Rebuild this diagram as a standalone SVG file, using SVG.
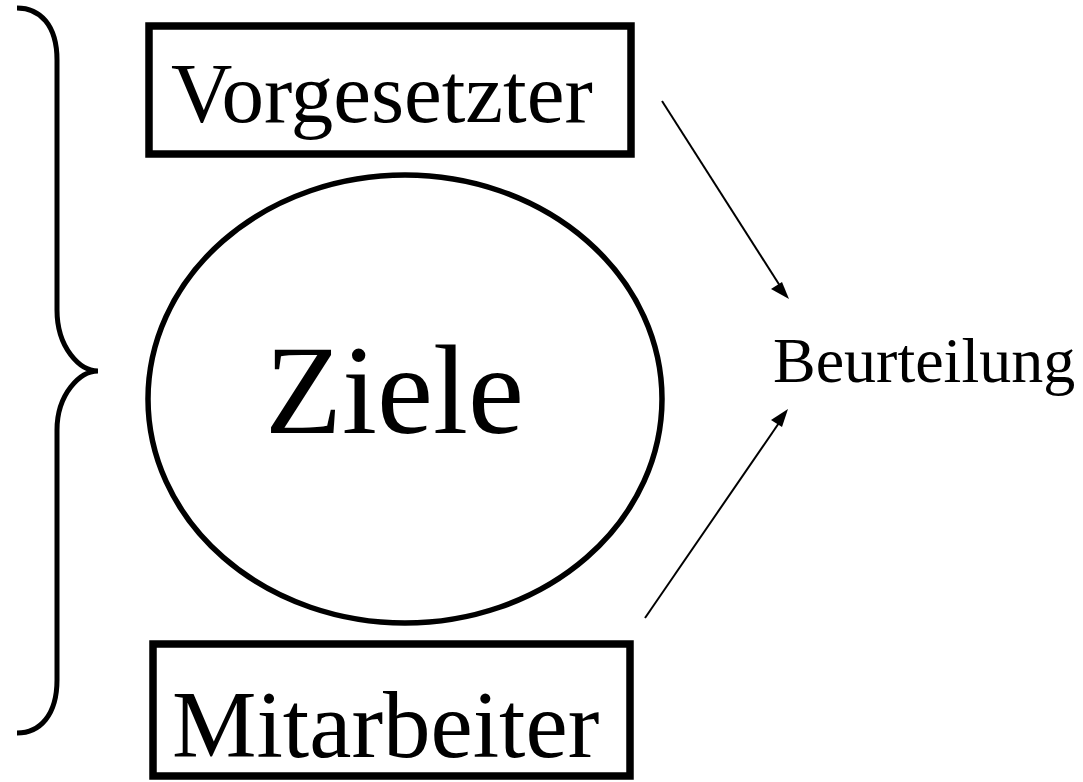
<svg xmlns="http://www.w3.org/2000/svg" width="1083" height="782" viewBox="0 0 1083 782">
<style>
.box{fill:#fff;stroke:#000;stroke-width:7.5}
.t{font-family:"Liberation Serif","Times New Roman",serif;fill:#000}
.conn{stroke:#000;stroke-width:2;fill:none}
</style>
<rect width="1083" height="782" fill="#fff"/>
<g id="brace">
<path d="M17,8 C40,8 57,25 57,60 L57,310 C57,348 80,371 98,371 C80,371 57,394 57,430 L57,680 C57,715 40,733 17,733" fill="none" stroke="#000" stroke-width="5"/>
</g>
<g id="vorgesetzter">
<rect class="box" x="149" y="26" width="482" height="128"/>
<text class="t" x="171" y="122" font-size="85">Vorgesetzter</text>
</g>
<g id="ziele">
<ellipse cx="405" cy="399" rx="257" ry="224" fill="#fff" stroke="#000" stroke-width="5.5"/>
<text class="t" x="265" y="433" font-size="126">Ziele</text>
</g>
<g id="mitarbeiter">
<rect class="box" x="153" y="644" width="477" height="132"/>
<text class="t" x="172" y="757" font-size="95">Mitarbeiter</text>
</g>
<g id="beurteilung">
<text class="t" x="773" y="382" font-size="64">Beurteilung</text>
</g>
<g id="connectors">
<line class="conn" x1="662" y1="101" x2="782" y2="289"/>
<path d="M789,299 l-18,-10 l11,-7 z" fill="#000"/>
<line class="conn" x1="645" y1="618" x2="781" y2="420"/>
<path d="M788,409 l-17,11 l11,7 z" fill="#000"/>
</g>
</svg>
